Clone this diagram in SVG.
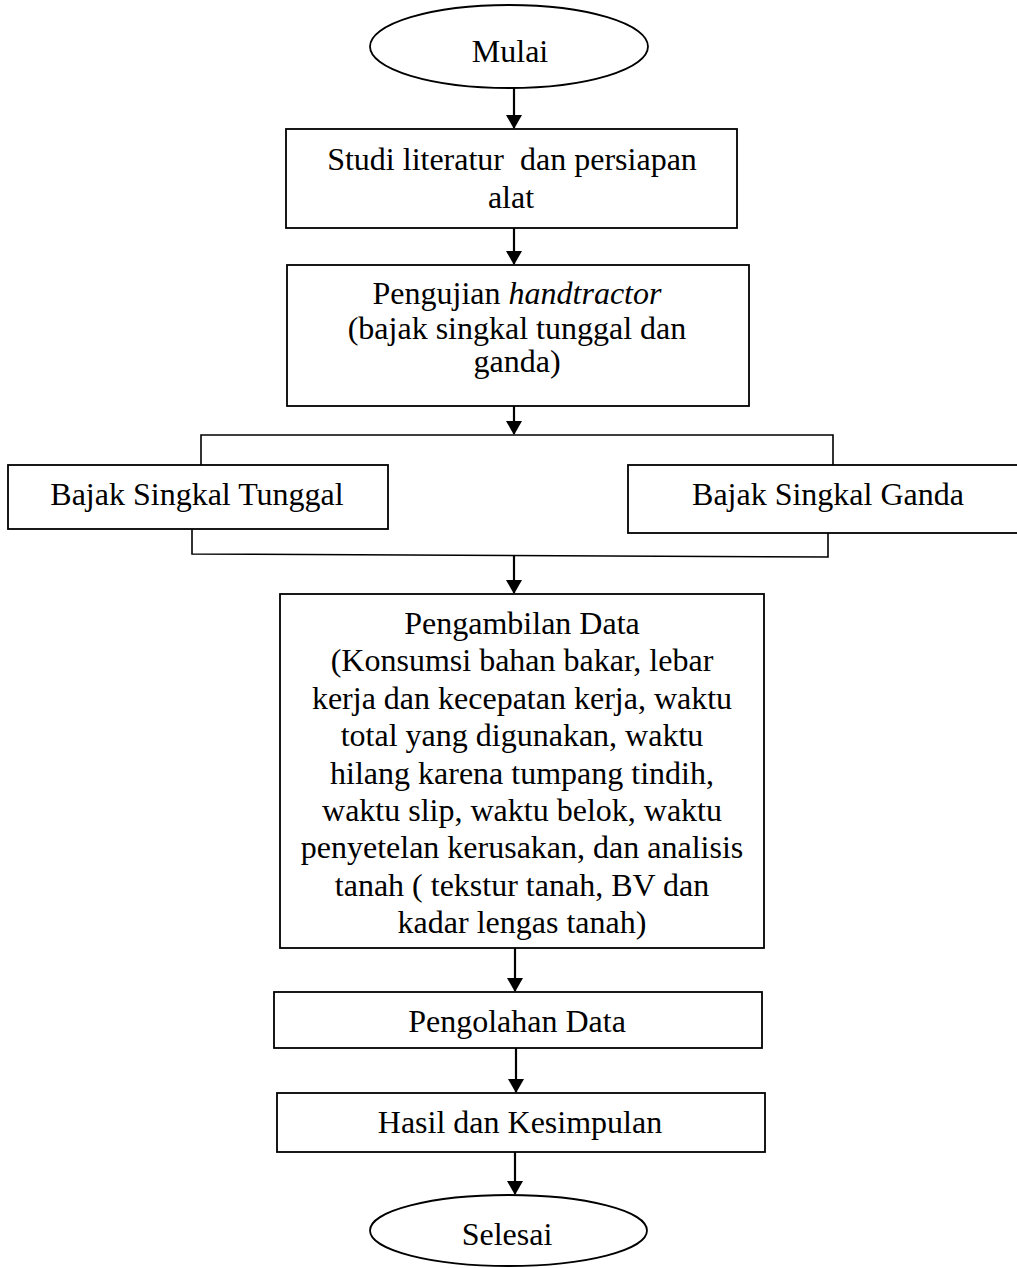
<svg xmlns="http://www.w3.org/2000/svg" width="1017" height="1268" viewBox="0 0 1017 1268">
<defs>
<style>
.box{fill:#fff;stroke:#000;stroke-width:1.8}
.t{font-family:"Liberation Serif","Times New Roman",serif;font-size:32px;fill:#000;text-anchor:middle;white-space:pre}
.ln{fill:none;stroke:#000;stroke-width:1.6}
.ar{fill:none;stroke:#000;stroke-width:2.2}
</style>
<marker id="ah" markerUnits="userSpaceOnUse" markerWidth="14" markerHeight="16" viewBox="0 0 14 16" refX="13" refY="8" orient="auto">
<path d="M0,0 L14,8 L0,16 Z" fill="#000"/>
</marker>
</defs>
<rect width="1017" height="1268" fill="#fff"/>
<g id="connectors">
<path class="ar" d="M514,88 V128" marker-end="url(#ah)"/>
<path class="ar" d="M514,228 V264" marker-end="url(#ah)"/>
<path class="ar" d="M514,406 V434" marker-end="url(#ah)"/>
<path class="ln" d="M201,465 V435 H833 V465"/>
<path class="ln" d="M192,529 V554 L828,557 V526"/>
<path class="ar" d="M514,556 V593" marker-end="url(#ah)"/>
<path class="ar" d="M515,948 V991" marker-end="url(#ah)"/>
<path class="ar" d="M516,1048 V1092" marker-end="url(#ah)"/>
<path class="ar" d="M515,1152 V1194" marker-end="url(#ah)"/>
</g>
<g id="mulai">
<ellipse class="box" cx="509" cy="46.5" rx="139" ry="41.5"/>
<text class="t" x="510" y="62">Mulai</text>
</g>
<g id="studi">
<rect class="box" x="286" y="129" width="451" height="99"/>
<text class="t" x="512" y="170" xml:space="preserve">Studi literatur  dan persiapan</text>
<text class="t" x="511" y="208">alat</text>
</g>
<g id="pengujian">
<rect class="box" x="287" y="265" width="462" height="141"/>
<text class="t" x="517" y="304">Pengujian <tspan font-style="italic">handtractor</tspan></text>
<text class="t" x="517" y="339">(bajak singkal tunggal dan</text>
<text class="t" x="517" y="372">ganda)</text>
</g>
<g id="tunggal">
<rect class="box" x="8" y="465" width="380" height="64"/>
<text class="t" x="197" y="505">Bajak Singkal Tunggal</text>
</g>
<g id="ganda">
<rect class="box" x="628" y="465" width="400" height="68"/>
<text class="t" x="828" y="505">Bajak Singkal Ganda</text>
</g>
<g id="pengambilan">
<rect class="box" x="280" y="594" width="484" height="354"/>
<text class="t" x="522" y="634">Pengambilan Data</text>
<text class="t" x="522" y="671.4">(Konsumsi bahan bakar, lebar</text>
<text class="t" x="522" y="708.8">kerja dan kecepatan kerja, waktu</text>
<text class="t" x="522" y="746.2">total yang digunakan, waktu</text>
<text class="t" x="522" y="783.6">hilang karena tumpang tindih,</text>
<text class="t" x="522" y="821">waktu slip, waktu belok, waktu</text>
<text class="t" x="522" y="858.4">penyetelan kerusakan, dan analisis</text>
<text class="t" x="522" y="895.8">tanah ( tekstur tanah, BV dan</text>
<text class="t" x="522" y="933.2">kadar lengas tanah)</text>
</g>
<g id="pengolahan">
<rect class="box" x="274" y="992" width="488" height="56"/>
<text class="t" x="517" y="1032">Pengolahan Data</text>
</g>
<g id="hasil">
<rect class="box" x="277" y="1093" width="488" height="59"/>
<text class="t" x="520" y="1133">Hasil dan Kesimpulan</text>
</g>
<g id="selesai">
<ellipse class="box" cx="508.5" cy="1230.5" rx="138.5" ry="35.5"/>
<text class="t" x="507" y="1245">Selesai</text>
</g>
</svg>
